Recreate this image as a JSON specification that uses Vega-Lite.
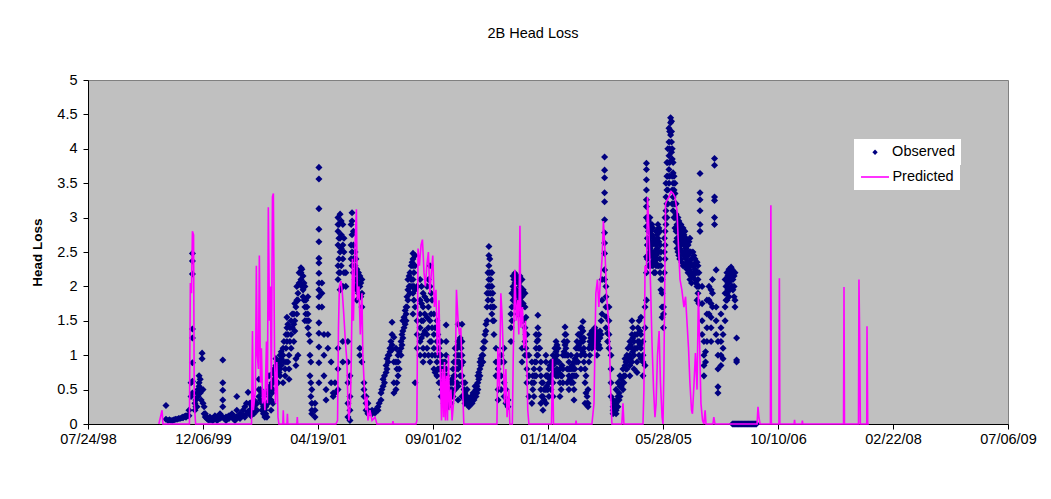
{
"$schema": "https://vega.github.io/schema/vega-lite/v6.json",
"width": 920,
"height": 344,
"autosize": {"type": "none"},
"padding": {"left": 88, "top": 80, "right": 43, "bottom": 75},
"background": "white",
"config": {
  "font": "Liberation Sans",
  "view": {"fill": "#C0C0C0", "stroke": "#808080", "strokeWidth": 1}
},
"title": {"text": "2B Head Loss", "font": "Liberation Sans", "fontSize": 14.5, "fontWeight": "normal", "color": "black", "frame": "group", "anchor": "middle", "dx": -15, "offset": 20, "baseline": "alphabetic"},
"datasets": {
"obs": [
{"d":"1999-06-28","v":0.27},{"d":"1999-06-28","v":0.07},{"d":"1999-07-07","v":0.05},{"d":"1999-07-20","v":0.05},{"d":"1999-08-02","v":0.06},{"d":"1999-08-15","v":0.07},{"d":"1999-08-28","v":0.08},{"d":"1999-09-10","v":0.09},{"d":"1999-09-10","v":0.1},{"d":"1999-09-23","v":0.1},{"d":"1999-09-23","v":0.12},{"d":"1999-10-06","v":0.12},{"d":"1999-10-06","v":0.2},{"d":"1999-10-15","v":0.4},{"d":"1999-10-15","v":0.6},
{"d":"1999-07-13","v":0.06},{"d":"1999-07-27","v":0.05},{"d":"1999-08-08","v":0.07},{"d":"1999-08-22","v":0.08},{"d":"1999-09-04","v":0.09},{"d":"1999-09-17","v":0.11},{"d":"1999-09-30","v":0.12},
{"d":"1999-10-21","v":2.48},{"d":"1999-10-21","v":2.37},{"d":"1999-10-21","v":2.18},{"d":"1999-10-21","v":1.38},{"d":"1999-10-21","v":1.25},{"d":"1999-10-21","v":0.89},{"d":"1999-10-21","v":0.62},{"d":"1999-10-21","v":0.45},
{"d":"1999-11-01","v":0.3},{"d":"1999-11-01","v":0.2},{"d":"1999-11-10","v":0.25},{"d":"1999-11-10","v":0.45},{"d":"1999-11-19","v":0.55},{"d":"1999-11-19","v":0.7},{"d":"1999-11-19","v":0.6},{"d":"1999-11-28","v":0.5},{"d":"1999-11-28","v":0.35},{"d":"1999-12-02","v":1.03},{"d":"1999-12-02","v":0.95},{"d":"1999-12-11","v":0.25},{"d":"1999-12-11","v":0.15},{"d":"1999-12-23","v":0.1},{"d":"1999-12-23","v":0.08},
{"d":"1999-11-05","v":0.35},{"d":"1999-11-05","v":0.25},{"d":"1999-11-14","v":0.4},{"d":"1999-11-14","v":0.5},{"d":"1999-11-24","v":0.65},{"d":"1999-11-24","v":0.45},{"d":"1999-12-06","v":0.5},{"d":"1999-12-06","v":0.3},{"d":"1999-12-16","v":0.15},{"d":"1999-12-16","v":0.1},{"d":"1999-12-29","v":0.06},
{"d":"2000-01-05","v":0.06},{"d":"2000-01-05","v":0.1},{"d":"2000-01-16","v":0.05},{"d":"2000-01-16","v":0.08},{"d":"2000-01-27","v":0.08},{"d":"2000-01-27","v":0.12},{"d":"2000-02-05","v":0.05},{"d":"2000-02-05","v":0.1},{"d":"2000-02-18","v":0.15},{"d":"2000-02-18","v":0.08},
{"d":"2000-01-10","v":0.07},{"d":"2000-01-21","v":0.06},{"d":"2000-02-10","v":0.07},{"d":"2000-02-24","v":0.1},{"d":"2000-03-08","v":0.08},{"d":"2000-03-21","v":0.1},{"d":"2000-04-04","v":0.12},{"d":"2000-04-16","v":0.08},{"d":"2000-04-28","v":0.1},{"d":"2000-05-08","v":0.1},{"d":"2000-05-22","v":0.12},{"d":"2000-06-12","v":0.15},{"d":"2000-06-12","v":0.3},{"d":"2000-06-26","v":0.2},{"d":"2000-06-26","v":0.3},{"d":"2000-07-07","v":0.25},{"d":"2000-07-07","v":0.15},{"d":"2000-07-21","v":0.2},{"d":"2000-07-21","v":0.3},{"d":"2000-08-12","v":0.35},{"d":"2000-08-12","v":0.5},{"d":"2000-08-25","v":0.25},{"d":"2000-08-25","v":0.15},{"d":"2000-09-04","v":0.15},{"d":"2000-09-04","v":0.25},{"d":"2000-09-13","v":0.3},{"d":"2000-09-13","v":0.45},{"d":"2000-09-22","v":0.55},{"d":"2000-09-22","v":0.35},{"d":"2000-10-01","v":0.45},{"d":"2000-10-01","v":0.6},
{"d":"2000-03-01","v":0.93},{"d":"2000-03-01","v":0.6},{"d":"2000-03-01","v":0.49},{"d":"2000-03-01","v":0.35},{"d":"2000-03-01","v":0.25},{"d":"2000-03-01","v":0.1},
{"d":"2000-03-15","v":0.1},{"d":"2000-03-15","v":0.05},{"d":"2000-03-28","v":0.08},{"d":"2000-03-28","v":0.12},{"d":"2000-04-10","v":0.15},{"d":"2000-04-10","v":0.1},{"d":"2000-04-23","v":0.05},{"d":"2000-04-23","v":0.1},{"d":"2000-05-01","v":0.4},{"d":"2000-05-01","v":0.2},{"d":"2000-05-01","v":0.1},{"d":"2000-05-15","v":0.15},{"d":"2000-05-15","v":0.08},{"d":"2000-05-28","v":0.2},{"d":"2000-05-28","v":0.12},{"d":"2000-06-05","v":0.25},{"d":"2000-06-05","v":0.1},{"d":"2000-06-19","v":0.46},{"d":"2000-06-19","v":0.18},
{"d":"2000-07-01","v":0.2},{"d":"2000-07-01","v":0.3},{"d":"2000-07-01","v":0.12},{"d":"2000-07-14","v":0.15},{"d":"2000-07-14","v":0.35},{"d":"2000-07-14","v":0.25},{"d":"2000-07-28","v":0.3},{"d":"2000-07-28","v":0.2},{"d":"2000-08-05","v":0.5},{"d":"2000-08-05","v":0.65},{"d":"2000-08-05","v":0.4},{"d":"2000-08-18","v":0.3},{"d":"2000-08-18","v":0.2},{"d":"2000-08-18","v":0.45},{"d":"2000-08-31","v":0.2},{"d":"2000-08-31","v":0.1},
{"d":"2000-09-09","v":0.1},{"d":"2000-09-09","v":0.3},{"d":"2000-09-18","v":0.5},{"d":"2000-09-18","v":0.7},{"d":"2000-09-18","v":0.4},{"d":"2000-09-27","v":0.2},{"d":"2000-09-27","v":0.35},{"d":"2000-10-05","v":0.74},{"d":"2000-10-05","v":0.6},{"d":"2000-10-05","v":0.5},{"d":"2000-10-05","v":0.3},{"d":"2000-10-18","v":0.85},{"d":"2000-10-18","v":0.95},{"d":"2000-10-18","v":0.7},{"d":"2000-10-27","v":0.6},{"d":"2000-10-27","v":0.8},
{"d":"2000-10-10","v":0.65},{"d":"2000-10-10","v":0.8},{"d":"2000-10-23","v":0.75},{"d":"2000-10-23","v":0.9},{"d":"2000-11-01","v":0.75},{"d":"2000-11-01","v":0.9},{"d":"2000-11-10","v":0.85},{"d":"2000-11-10","v":0.95},{"d":"2000-11-10","v":1.05},{"d":"2000-11-22","v":0.9},{"d":"2000-11-22","v":1.2},{"d":"2000-12-01","v":1.3},{"d":"2000-12-01","v":1.1},{"d":"2000-12-01","v":0.9},{"d":"2000-12-09","v":1.3},{"d":"2000-12-09","v":1.45},{"d":"2000-12-09","v":0.9},{"d":"2000-12-18","v":1.2},{"d":"2000-12-18","v":1.4},{"d":"2000-12-28","v":1.6},{"d":"2000-12-28","v":1.4},
{"d":"2000-11-05","v":0.7},{"d":"2000-11-05","v":0.8},{"d":"2000-11-05","v":1.0},{"d":"2000-11-18","v":1.1},{"d":"2000-11-18","v":1.0},{"d":"2000-11-18","v":0.6},{"d":"2000-11-27","v":0.8},{"d":"2000-11-27","v":0.7},{"d":"2000-12-05","v":1.55},{"d":"2000-12-05","v":1.4},{"d":"2000-12-05","v":1.2},{"d":"2000-12-14","v":1.0},{"d":"2000-12-14","v":0.8},{"d":"2000-12-14","v":0.65},{"d":"2000-12-23","v":1.5},{"d":"2000-12-23","v":1.3},{"d":"2000-12-23","v":1.1},
{"d":"2001-01-04","v":1.6},{"d":"2001-01-04","v":1.45},{"d":"2001-01-04","v":1.2},{"d":"2001-01-13","v":0.95},{"d":"2001-01-13","v":0.85},{"d":"2001-01-13","v":1.7},{"d":"2001-01-22","v":1.9},{"d":"2001-01-22","v":1.8},{"d":"2001-01-22","v":1.0},{"d":"2001-02-04","v":2.27},{"d":"2001-02-04","v":2.2},{"d":"2001-02-04","v":2.1},{"d":"2001-02-13","v":1.95},{"d":"2001-02-13","v":1.85},{"d":"2001-02-13","v":2.15},{"d":"2001-02-21","v":1.7},{"d":"2001-02-21","v":1.5},{"d":"2001-02-21","v":2.0},
{"d":"2001-01-08","v":1.35},{"d":"2001-01-08","v":1.5},{"d":"2001-01-08","v":1.75},{"d":"2001-01-17","v":1.6},{"d":"2001-01-17","v":1.8},{"d":"2001-01-17","v":2.0},{"d":"2001-01-27","v":2.05},{"d":"2001-01-27","v":2.2},{"d":"2001-02-08","v":2.0},{"d":"2001-02-08","v":2.25},{"d":"2001-02-17","v":1.8},{"d":"2001-02-17","v":2.05},{"d":"2001-02-25","v":1.8},{"d":"2001-02-25","v":1.6},{"d":"2001-03-02","v":1.7},{"d":"2001-03-02","v":1.5},{"d":"2001-03-10","v":1.5},{"d":"2001-03-10","v":1.3},{"d":"2001-03-19","v":0.9},{"d":"2001-03-19","v":0.6},{"d":"2001-03-19","v":0.4},
{"d":"2001-03-06","v":1.85},{"d":"2001-03-06","v":1.6},{"d":"2001-03-06","v":1.4},{"d":"2001-03-15","v":1.2},{"d":"2001-03-15","v":1.0},{"d":"2001-03-15","v":0.7},{"d":"2001-03-23","v":0.5},{"d":"2001-03-23","v":0.3},{"d":"2001-03-23","v":0.2},{"d":"2001-03-23","v":0.15},{"d":"2001-04-06","v":0.1},{"d":"2001-04-06","v":0.2},{"d":"2001-04-06","v":0.3},
{"d":"2001-04-23","v":3.73},{"d":"2001-04-23","v":3.56},{"d":"2001-04-23","v":3.13},{"d":"2001-04-23","v":2.83},{"d":"2001-04-23","v":2.65},{"d":"2001-04-23","v":2.41},{"d":"2001-04-23","v":2.34},{"d":"2001-04-23","v":2.19},{"d":"2001-04-23","v":2.05},{"d":"2001-04-23","v":1.95},{"d":"2001-04-23","v":1.85},{"d":"2001-04-23","v":1.7},{"d":"2001-04-23","v":1.47},{"d":"2001-04-23","v":1.32},{"d":"2001-04-23","v":1.12},{"d":"2001-04-23","v":0.89},{"d":"2001-04-23","v":0.6},
{"d":"2001-05-06","v":2.05},{"d":"2001-05-06","v":1.9},{"d":"2001-05-06","v":1.7},{"d":"2001-05-15","v":1.3},{"d":"2001-05-15","v":1.0},{"d":"2001-05-15","v":0.7},{"d":"2001-05-24","v":0.5},{"d":"2001-05-24","v":0.35},{"d":"2001-06-01","v":1.3},{"d":"2001-06-01","v":1.1},{"d":"2001-06-15","v":0.9},{"d":"2001-06-15","v":0.6},{"d":"2001-06-24","v":0.45},{"d":"2001-06-24","v":0.4},{"d":"2001-07-02","v":0.6},{"d":"2001-07-02","v":0.45},
{"d":"2001-07-15","v":3.0},{"d":"2001-07-15","v":2.9},{"d":"2001-07-15","v":2.8},{"d":"2001-07-15","v":2.6},{"d":"2001-07-15","v":2.3},{"d":"2001-07-15","v":2.1},{"d":"2001-07-15","v":1.1},{"d":"2001-07-15","v":0.8},{"d":"2001-07-15","v":0.5},{"d":"2001-07-24","v":3.05},{"d":"2001-07-24","v":2.7},{"d":"2001-07-24","v":2.5},{"d":"2001-07-24","v":2.2},{"d":"2001-07-24","v":1.95},
{"d":"2001-07-19","v":2.9},{"d":"2001-07-19","v":2.7},{"d":"2001-07-19","v":2.4},{"d":"2001-07-19","v":2.2},{"d":"2001-07-29","v":2.95},{"d":"2001-07-29","v":2.75},{"d":"2001-07-29","v":2.55},{"d":"2001-07-29","v":2.3},{"d":"2001-08-10","v":2.7},{"d":"2001-08-10","v":2.5},{"d":"2001-08-10","v":2.2},
{"d":"2001-08-05","v":2.9},{"d":"2001-08-05","v":2.6},{"d":"2001-08-05","v":2.4},{"d":"2001-08-05","v":2.0},{"d":"2001-08-05","v":1.2},{"d":"2001-08-05","v":0.9},{"d":"2001-08-18","v":2.2},{"d":"2001-08-18","v":2.0},{"d":"2001-08-27","v":1.2},{"d":"2001-08-27","v":0.9},{"d":"2001-08-27","v":0.6},{"d":"2001-08-27","v":0.3},{"d":"2001-08-27","v":0.1},
{"d":"2001-09-05","v":0.7},{"d":"2001-09-05","v":0.4},{"d":"2001-09-05","v":0.2},{"d":"2001-09-05","v":0.05},{"d":"2001-09-14","v":3.07},{"d":"2001-09-14","v":2.95},{"d":"2001-09-14","v":2.75},{"d":"2001-09-14","v":2.5},{"d":"2001-09-14","v":2.3},{"d":"2001-09-27","v":2.5},{"d":"2001-09-27","v":2.3},{"d":"2001-09-27","v":2.1},
{"d":"2001-09-10","v":2.9},{"d":"2001-09-10","v":2.6},{"d":"2001-09-10","v":2.4},{"d":"2001-09-20","v":2.8},{"d":"2001-09-20","v":2.6},{"d":"2001-09-20","v":2.4},{"d":"2001-09-20","v":2.2},{"d":"2001-10-01","v":2.4},{"d":"2001-10-01","v":2.2},{"d":"2001-10-01","v":2.0},{"d":"2001-10-12","v":2.2},{"d":"2001-10-12","v":2.05},{"d":"2001-10-12","v":1.9},{"d":"2001-10-22","v":2.05},{"d":"2001-10-22","v":1.85},
{"d":"2001-10-05","v":2.25},{"d":"2001-10-05","v":2.1},{"d":"2001-10-05","v":1.95},{"d":"2001-10-05","v":1.8},{"d":"2001-10-18","v":2.15},{"d":"2001-10-18","v":2.0},{"d":"2001-10-18","v":1.1},{"d":"2001-10-18","v":1.0},{"d":"2001-10-27","v":2.1},{"d":"2001-10-27","v":1.9},{"d":"2001-10-27","v":1.7},{"d":"2001-10-27","v":0.9},
{"d":"2001-11-05","v":0.6},{"d":"2001-11-05","v":0.5},{"d":"2001-11-05","v":0.4},{"d":"2001-11-14","v":0.4},{"d":"2001-11-14","v":0.3},{"d":"2001-11-14","v":0.2},{"d":"2001-11-22","v":0.3},{"d":"2001-11-22","v":0.2},{"d":"2001-11-22","v":0.15},{"d":"2001-12-10","v":0.2},{"d":"2001-12-10","v":0.15},{"d":"2001-12-23","v":0.16},{"d":"2001-12-23","v":0.2},
{"d":"2002-01-05","v":0.2},{"d":"2002-01-05","v":0.25},{"d":"2002-01-18","v":0.35},{"d":"2002-01-18","v":0.45},{"d":"2002-01-27","v":0.55},{"d":"2002-01-27","v":0.65},{"d":"2002-02-09","v":0.75},{"d":"2002-02-09","v":0.85},{"d":"2002-02-18","v":0.9},{"d":"2002-02-18","v":1.0},{"d":"2002-02-26","v":1.05},{"d":"2002-02-26","v":1.1},
{"d":"2002-01-10","v":0.3},{"d":"2002-01-22","v":0.5},{"d":"2002-02-02","v":0.6},{"d":"2002-02-02","v":0.7},{"d":"2002-02-13","v":0.8},{"d":"2002-02-13","v":0.95},{"d":"2002-02-22","v":1.0},{"d":"2002-03-02","v":1.1},{"d":"2002-03-02","v":1.2},{"d":"2002-03-28","v":0.6},{"d":"2002-03-28","v":0.8},{"d":"2002-04-07","v":0.8},{"d":"2002-04-07","v":1.05},{"d":"2002-04-19","v":1.15},{"d":"2002-04-19","v":1.3},{"d":"2002-04-28","v":1.4},{"d":"2002-04-28","v":1.55},{"d":"2002-05-03","v":1.45},{"d":"2002-05-03","v":1.65},{"d":"2002-05-11","v":1.7},{"d":"2002-05-11","v":1.85},{"d":"2002-05-20","v":2.0},{"d":"2002-05-20","v":2.15},{"d":"2002-05-29","v":2.3},{"d":"2002-05-29","v":2.1},{"d":"2002-06-02","v":2.35},{"d":"2002-06-02","v":2.0},{"d":"2002-06-10","v":2.2},{"d":"2002-06-10","v":2.0},{"d":"2002-06-10","v":1.8},
{"d":"2002-03-07","v":1.48},{"d":"2002-03-07","v":1.3},{"d":"2002-03-07","v":1.15},{"d":"2002-03-07","v":1.08},{"d":"2002-03-15","v":1.26},{"d":"2002-03-15","v":0.9},{"d":"2002-03-15","v":0.6},{"d":"2002-03-15","v":0.45},{"d":"2002-03-24","v":1.1},{"d":"2002-03-24","v":0.9},{"d":"2002-03-24","v":0.5},
{"d":"2002-04-02","v":0.7},{"d":"2002-04-02","v":0.9},{"d":"2002-04-02","v":1.0},{"d":"2002-04-15","v":1.0},{"d":"2002-04-15","v":1.1},{"d":"2002-04-15","v":1.2},{"d":"2002-04-23","v":1.25},{"d":"2002-04-23","v":1.35},{"d":"2002-04-23","v":1.5},{"d":"2002-05-07","v":1.5},{"d":"2002-05-07","v":1.6},{"d":"2002-05-07","v":1.7},{"d":"2002-05-15","v":1.8},{"d":"2002-05-15","v":1.95},{"d":"2002-05-15","v":2.1},{"d":"2002-05-24","v":2.2},{"d":"2002-05-24","v":2.0},{"d":"2002-05-24","v":1.9},
{"d":"2002-06-06","v":2.4},{"d":"2002-06-06","v":2.48},{"d":"2002-06-06","v":2.3},{"d":"2002-06-06","v":2.1},{"d":"2002-06-06","v":1.9},{"d":"2002-06-06","v":1.6},{"d":"2002-06-15","v":2.45},{"d":"2002-06-15","v":2.3},{"d":"2002-06-15","v":1.95},{"d":"2002-06-15","v":1.7},{"d":"2002-06-15","v":0.6},{"d":"2002-06-24","v":2.0},{"d":"2002-06-24","v":1.5},{"d":"2002-06-24","v":1.3},{"d":"2002-06-24","v":1.1},
{"d":"2002-07-07","v":2.1},{"d":"2002-07-07","v":1.8},{"d":"2002-07-07","v":1.6},{"d":"2002-07-07","v":1.4},{"d":"2002-07-07","v":1.2},{"d":"2002-07-07","v":1.0},{"d":"2002-07-20","v":1.9},{"d":"2002-07-20","v":1.7},{"d":"2002-07-20","v":1.5},{"d":"2002-07-20","v":1.3},{"d":"2002-07-20","v":1.1},{"d":"2002-07-20","v":0.9},
{"d":"2002-07-13","v":2.0},{"d":"2002-07-13","v":1.75},{"d":"2002-07-13","v":1.5},{"d":"2002-07-13","v":1.25},{"d":"2002-07-27","v":1.85},{"d":"2002-07-27","v":1.6},{"d":"2002-07-27","v":1.35},{"d":"2002-07-27","v":1.0},{"d":"2002-08-12","v":2.1},{"d":"2002-08-12","v":1.7},{"d":"2002-08-12","v":1.4},{"d":"2002-08-12","v":1.0},{"d":"2002-08-24","v":1.9},{"d":"2002-08-24","v":1.6},{"d":"2002-08-24","v":1.2},{"d":"2002-09-10","v":1.4},{"d":"2002-09-10","v":1.0},{"d":"2002-09-10","v":0.75},{"d":"2002-09-22","v":1.3},{"d":"2002-09-22","v":1.0},{"d":"2002-09-22","v":0.8},
{"d":"2002-08-06","v":2.0},{"d":"2002-08-06","v":1.8},{"d":"2002-08-06","v":1.55},{"d":"2002-08-06","v":1.3},{"d":"2002-08-06","v":1.1},{"d":"2002-08-19","v":2.3},{"d":"2002-08-19","v":2.0},{"d":"2002-08-19","v":1.5},{"d":"2002-08-19","v":1.2},{"d":"2002-08-19","v":0.9},{"d":"2002-08-28","v":1.8},{"d":"2002-08-28","v":1.4},{"d":"2002-08-28","v":1.0},
{"d":"2002-09-05","v":1.6},{"d":"2002-09-05","v":1.3},{"d":"2002-09-05","v":1.1},{"d":"2002-09-05","v":0.8},{"d":"2002-09-18","v":1.5},{"d":"2002-09-18","v":1.2},{"d":"2002-09-18","v":0.9},{"d":"2002-09-18","v":0.7},{"d":"2002-09-27","v":1.1},{"d":"2002-09-27","v":0.8},{"d":"2002-09-27","v":0.6},
{"d":"2002-10-06","v":1.2},{"d":"2002-10-06","v":1.0},{"d":"2002-10-06","v":0.8},{"d":"2002-10-06","v":0.6},{"d":"2002-10-06","v":0.4},{"d":"2002-10-19","v":0.9},{"d":"2002-10-19","v":0.7},{"d":"2002-10-19","v":0.5},{"d":"2002-10-19","v":0.3},{"d":"2002-10-28","v":1.44},{"d":"2002-10-28","v":1.2},{"d":"2002-10-28","v":1.0},{"d":"2002-10-28","v":0.8},{"d":"2002-10-28","v":0.6},{"d":"2002-10-28","v":0.35},
{"d":"2002-10-02","v":1.0},{"d":"2002-10-02","v":0.8},{"d":"2002-10-10","v":0.9},{"d":"2002-10-10","v":0.7},{"d":"2002-10-10","v":0.5},{"d":"2002-10-15","v":0.8},{"d":"2002-10-15","v":0.6},{"d":"2002-10-24","v":0.9},{"d":"2002-10-24","v":0.7},{"d":"2002-11-01","v":0.7},{"d":"2002-11-01","v":0.5},{"d":"2002-11-09","v":0.4},{"d":"2002-11-09","v":0.3},{"d":"2002-11-14","v":0.5},{"d":"2002-11-14","v":0.4},{"d":"2002-11-22","v":0.65},{"d":"2002-11-22","v":0.5},{"d":"2002-12-01","v":0.9},{"d":"2002-12-01","v":0.7},{"d":"2002-12-10","v":1.0},{"d":"2002-12-10","v":0.8},{"d":"2002-12-15","v":1.1},{"d":"2002-12-15","v":0.9},{"d":"2002-12-15","v":0.6},{"d":"2002-12-23","v":1.15},{"d":"2002-12-23","v":0.9},
{"d":"2002-11-05","v":0.5},{"d":"2002-11-05","v":0.35},{"d":"2002-11-05","v":0.25},{"d":"2002-11-18","v":0.6},{"d":"2002-11-18","v":0.45},{"d":"2002-11-18","v":0.3},{"d":"2002-11-27","v":0.8},{"d":"2002-11-27","v":0.6},{"d":"2002-11-27","v":0.4},
{"d":"2002-12-06","v":1.1},{"d":"2002-12-06","v":0.9},{"d":"2002-12-06","v":0.7},{"d":"2002-12-06","v":0.5},{"d":"2002-12-19","v":1.45},{"d":"2002-12-19","v":1.2},{"d":"2002-12-19","v":1.0},{"d":"2002-12-19","v":0.8},{"d":"2002-12-19","v":0.55},{"d":"2002-12-19","v":0.35},{"d":"2002-12-28","v":1.25},{"d":"2002-12-28","v":1.0},{"d":"2002-12-28","v":0.7},
{"d":"2003-01-05","v":1.45},{"d":"2003-01-05","v":1.2},{"d":"2003-01-05","v":1.0},{"d":"2003-01-05","v":0.7},{"d":"2003-01-05","v":0.4},{"d":"2003-01-18","v":0.6},{"d":"2003-01-18","v":0.45},{"d":"2003-01-18","v":0.35},{"d":"2003-01-18","v":0.3},{"d":"2003-01-27","v":0.5},{"d":"2003-01-27","v":0.4},{"d":"2003-01-27","v":0.3},
{"d":"2003-01-01","v":1.1},{"d":"2003-01-01","v":0.85},{"d":"2003-01-09","v":0.9},{"d":"2003-01-09","v":0.6},{"d":"2003-01-14","v":0.5},{"d":"2003-01-14","v":0.4},{"d":"2003-01-22","v":0.4},{"d":"2003-01-22","v":0.35},{"d":"2003-02-01","v":0.3},{"d":"2003-02-01","v":0.35},{"d":"2003-02-09","v":0.3},{"d":"2003-02-09","v":0.35},{"d":"2003-02-14","v":0.4},{"d":"2003-02-14","v":0.3},{"d":"2003-02-22","v":0.4},{"d":"2003-02-22","v":0.45},{"d":"2003-03-03","v":0.45},{"d":"2003-03-03","v":0.55},{"d":"2003-03-11","v":0.55},{"d":"2003-03-11","v":0.45},{"d":"2003-03-19","v":0.65},{"d":"2003-03-19","v":0.75},{"d":"2003-03-28","v":0.85},{"d":"2003-03-28","v":0.95},{"d":"2003-04-02","v":0.9},{"d":"2003-04-02","v":1.0},{"d":"2003-04-10","v":1.1},{"d":"2003-04-10","v":1.2},{"d":"2003-04-19","v":1.35},{"d":"2003-04-19","v":1.45},
{"d":"2003-02-04","v":0.35},{"d":"2003-02-04","v":0.3},{"d":"2003-02-04","v":0.25},{"d":"2003-02-18","v":0.4},{"d":"2003-02-18","v":0.35},{"d":"2003-02-18","v":0.3},{"d":"2003-02-26","v":0.45},{"d":"2003-02-26","v":0.35},
{"d":"2003-03-07","v":0.5},{"d":"2003-03-07","v":0.4},{"d":"2003-03-15","v":0.6},{"d":"2003-03-15","v":0.5},{"d":"2003-03-15","v":0.7},{"d":"2003-03-24","v":0.8},{"d":"2003-03-24","v":0.9},{"d":"2003-03-24","v":0.7},
{"d":"2003-04-06","v":1.0},{"d":"2003-04-06","v":1.1},{"d":"2003-04-06","v":0.9},{"d":"2003-04-15","v":1.2},{"d":"2003-04-15","v":1.3},{"d":"2003-04-24","v":1.5},{"d":"2003-04-24","v":1.7},{"d":"2003-04-24","v":1.9},
{"d":"2003-04-28","v":1.8},{"d":"2003-04-28","v":2.0},{"d":"2003-04-28","v":2.2},{"d":"2003-05-06","v":2.4},{"d":"2003-05-06","v":2.2},{"d":"2003-05-06","v":2.0},{"d":"2003-05-10","v":2.1},{"d":"2003-05-10","v":1.9},{"d":"2003-05-10","v":1.7},{"d":"2003-05-19","v":1.9},{"d":"2003-05-19","v":1.7},{"d":"2003-05-19","v":1.5},
{"d":"2003-05-02","v":2.58},{"d":"2003-05-02","v":2.45},{"d":"2003-05-02","v":2.3},{"d":"2003-05-02","v":2.1},{"d":"2003-05-02","v":1.9},{"d":"2003-05-15","v":2.2},{"d":"2003-05-15","v":2.0},{"d":"2003-05-15","v":1.8},{"d":"2003-05-15","v":1.6},{"d":"2003-05-24","v":1.7},{"d":"2003-05-24","v":1.5},{"d":"2003-05-24","v":1.3},
{"d":"2003-06-02","v":1.1},{"d":"2003-06-02","v":0.9},{"d":"2003-06-02","v":0.7},{"d":"2003-06-11","v":0.5},{"d":"2003-06-11","v":0.35},{"d":"2003-06-11","v":0.8},{"d":"2003-06-24","v":1.0},{"d":"2003-06-24","v":0.9},{"d":"2003-06-24","v":0.7},{"d":"2003-06-24","v":0.5},
{"d":"2003-07-07","v":1.1},{"d":"2003-07-07","v":0.9},{"d":"2003-07-07","v":0.6},{"d":"2003-07-07","v":0.4},{"d":"2003-07-15","v":0.5},{"d":"2003-07-15","v":0.3},{"d":"2003-07-24","v":0.25},{"d":"2003-07-24","v":0.35},
{"d":"2003-08-06","v":1.2},{"d":"2003-08-06","v":1.4},{"d":"2003-08-06","v":1.6},{"d":"2003-08-15","v":1.8},{"d":"2003-08-15","v":2.0},{"d":"2003-08-15","v":2.15},{"d":"2003-08-23","v":2.19},{"d":"2003-08-23","v":2.05},{"d":"2003-08-23","v":1.85},{"d":"2003-08-23","v":1.7},
{"d":"2003-08-10","v":1.5},{"d":"2003-08-10","v":1.7},{"d":"2003-08-10","v":1.9},{"d":"2003-08-19","v":2.1},{"d":"2003-08-19","v":1.95},{"d":"2003-08-19","v":1.8},{"d":"2003-08-28","v":2.15},{"d":"2003-08-28","v":1.95},{"d":"2003-08-28","v":1.75},{"d":"2003-09-09","v":2.05},{"d":"2003-09-09","v":1.85},{"d":"2003-09-09","v":1.7},{"d":"2003-09-18","v":2.1},{"d":"2003-09-18","v":1.9},{"d":"2003-09-18","v":1.7},{"d":"2003-09-28","v":1.95},{"d":"2003-09-28","v":1.75},{"d":"2003-09-28","v":1.5},{"d":"2003-10-10","v":1.55},{"d":"2003-10-10","v":1.3},{"d":"2003-10-10","v":1.1},
{"d":"2003-09-05","v":2.1},{"d":"2003-09-05","v":1.9},{"d":"2003-09-05","v":1.75},{"d":"2003-09-05","v":1.6},{"d":"2003-09-14","v":2.15},{"d":"2003-09-14","v":2.0},{"d":"2003-09-14","v":1.8},{"d":"2003-09-14","v":1.6},{"d":"2003-09-23","v":2.1},{"d":"2003-09-23","v":1.85},{"d":"2003-09-23","v":1.7},{"d":"2003-09-23","v":1.1},{"d":"2003-09-23","v":0.9},
{"d":"2003-10-06","v":1.9},{"d":"2003-10-06","v":1.7},{"d":"2003-10-06","v":1.4},{"d":"2003-10-06","v":1.2},{"d":"2003-10-06","v":1.0},{"d":"2003-10-14","v":1.3},{"d":"2003-10-14","v":1.0},{"d":"2003-10-14","v":0.8},{"d":"2003-10-14","v":0.6},{"d":"2003-10-23","v":1.0},{"d":"2003-10-23","v":0.7},{"d":"2003-10-23","v":0.4},
{"d":"2003-11-05","v":0.9},{"d":"2003-11-05","v":0.6},{"d":"2003-11-05","v":0.3},{"d":"2003-11-14","v":0.8},{"d":"2003-11-14","v":0.6},{"d":"2003-11-14","v":0.4},{"d":"2003-11-23","v":1.3},{"d":"2003-11-23","v":1.1},{"d":"2003-11-23","v":0.9},{"d":"2003-11-23","v":0.7},
{"d":"2003-11-09","v":0.7},{"d":"2003-11-09","v":0.5},{"d":"2003-11-18","v":0.9},{"d":"2003-11-18","v":0.7},{"d":"2003-11-27","v":1.2},{"d":"2003-11-27","v":1.0},{"d":"2003-12-05","v":1.3},{"d":"2003-12-05","v":1.1},{"d":"2003-12-09","v":1.1},{"d":"2003-12-09","v":0.8},{"d":"2003-12-18","v":0.6},{"d":"2003-12-18","v":0.4},{"d":"2003-12-28","v":0.35},{"d":"2003-12-28","v":0.5},
{"d":"2003-12-01","v":1.58},{"d":"2003-12-01","v":1.4},{"d":"2003-12-01","v":1.22},{"d":"2003-12-01","v":1.0},{"d":"2003-12-14","v":0.9},{"d":"2003-12-14","v":0.7},{"d":"2003-12-14","v":0.5},{"d":"2003-12-14","v":0.3},{"d":"2003-12-23","v":0.6},{"d":"2003-12-23","v":0.4},{"d":"2003-12-23","v":0.2},
{"d":"2004-01-05","v":0.5},{"d":"2004-01-05","v":0.7},{"d":"2004-01-05","v":0.9},{"d":"2004-01-05","v":1.0},{"d":"2004-01-05","v":0.3},{"d":"2004-01-18","v":0.4},{"d":"2004-01-18","v":0.6},{"d":"2004-01-18","v":0.8},{"d":"2004-01-27","v":0.9},{"d":"2004-01-27","v":0.7},{"d":"2004-01-27","v":0.5},
{"d":"2004-01-09","v":0.7},{"d":"2004-01-09","v":0.55},{"d":"2004-01-13","v":0.5},{"d":"2004-01-13","v":0.7},{"d":"2004-01-22","v":0.65},{"d":"2004-01-22","v":0.85},{"d":"2004-02-01","v":0.8},{"d":"2004-02-01","v":0.6},{"d":"2004-02-09","v":0.9},{"d":"2004-02-09","v":0.75},{"d":"2004-02-13","v":1.1},{"d":"2004-02-13","v":0.95},{"d":"2004-02-22","v":1.15},{"d":"2004-02-22","v":1.0},{"d":"2004-02-22","v":0.8},{"d":"2004-03-01","v":0.9},{"d":"2004-03-01","v":0.75},{"d":"2004-03-11","v":0.7},{"d":"2004-03-11","v":0.5},{"d":"2004-03-15","v":0.85},{"d":"2004-03-15","v":0.7},{"d":"2004-03-24","v":1.2},{"d":"2004-03-24","v":1.05},
{"d":"2004-02-05","v":1.0},{"d":"2004-02-05","v":0.85},{"d":"2004-02-05","v":0.6},{"d":"2004-02-05","v":0.4},{"d":"2004-02-18","v":1.2},{"d":"2004-02-18","v":1.05},{"d":"2004-02-18","v":0.9},{"d":"2004-02-18","v":0.7},{"d":"2004-02-27","v":1.1},{"d":"2004-02-27","v":0.9},{"d":"2004-02-27","v":0.7},
{"d":"2004-03-06","v":0.8},{"d":"2004-03-06","v":0.6},{"d":"2004-03-06","v":0.4},{"d":"2004-03-19","v":1.0},{"d":"2004-03-19","v":0.8},{"d":"2004-03-19","v":0.6},{"d":"2004-03-28","v":1.41},{"d":"2004-03-28","v":1.3},{"d":"2004-03-28","v":1.15},{"d":"2004-03-28","v":1.0},
{"d":"2004-04-01","v":1.3},{"d":"2004-04-01","v":1.1},{"d":"2004-04-10","v":1.0},{"d":"2004-04-10","v":0.8},{"d":"2004-04-18","v":0.8},{"d":"2004-04-18","v":0.65},{"d":"2004-04-28","v":0.85},{"d":"2004-04-28","v":0.7},{"d":"2004-05-02","v":0.8},{"d":"2004-05-02","v":0.6},{"d":"2004-05-10","v":0.95},{"d":"2004-05-10","v":0.8},{"d":"2004-05-19","v":1.2},{"d":"2004-05-19","v":1.0},{"d":"2004-05-28","v":1.3},{"d":"2004-05-28","v":1.15},{"d":"2004-06-01","v":1.3},{"d":"2004-06-01","v":1.1},{"d":"2004-06-09","v":1.4},{"d":"2004-06-09","v":1.25},{"d":"2004-06-18","v":1.25},{"d":"2004-06-18","v":1.1},{"d":"2004-06-18","v":0.9},{"d":"2004-06-27","v":0.7},{"d":"2004-06-27","v":0.45},{"d":"2004-07-02","v":0.4},{"d":"2004-07-02","v":0.3},{"d":"2004-07-10","v":0.9},{"d":"2004-07-10","v":1.1},{"d":"2004-07-18","v":1.25},{"d":"2004-07-18","v":1.15},{"d":"2004-07-28","v":1.3},{"d":"2004-07-28","v":1.2},{"d":"2004-08-01","v":1.35},{"d":"2004-08-01","v":1.2},{"d":"2004-08-09","v":1.35},{"d":"2004-08-09","v":1.25},{"d":"2004-08-18","v":1.2},{"d":"2004-08-18","v":1.1},{"d":"2004-08-22","v":1.25},{"d":"2004-08-22","v":1.15},{"d":"2004-09-01","v":1.5},{"d":"2004-09-01","v":1.3},
{"d":"2004-04-06","v":1.2},{"d":"2004-04-06","v":1.0},{"d":"2004-04-06","v":0.8},{"d":"2004-04-06","v":0.6},{"d":"2004-04-14","v":0.9},{"d":"2004-04-14","v":0.7},{"d":"2004-04-14","v":0.5},{"d":"2004-04-23","v":1.0},{"d":"2004-04-23","v":0.8},{"d":"2004-04-23","v":0.6},
{"d":"2004-05-06","v":0.9},{"d":"2004-05-06","v":0.7},{"d":"2004-05-06","v":0.5},{"d":"2004-05-06","v":0.35},{"d":"2004-05-15","v":1.1},{"d":"2004-05-15","v":0.9},{"d":"2004-05-15","v":0.7},{"d":"2004-05-24","v":1.3},{"d":"2004-05-24","v":1.1},{"d":"2004-05-24","v":0.9},
{"d":"2004-06-05","v":1.4},{"d":"2004-06-05","v":1.2},{"d":"2004-06-05","v":1.0},{"d":"2004-06-05","v":0.8},{"d":"2004-06-14","v":1.49},{"d":"2004-06-14","v":1.35},{"d":"2004-06-14","v":1.2},{"d":"2004-06-14","v":1.05},{"d":"2004-06-23","v":1.0},{"d":"2004-06-23","v":0.8},{"d":"2004-06-23","v":0.6},{"d":"2004-06-23","v":0.3},
{"d":"2004-07-06","v":0.5},{"d":"2004-07-06","v":0.3},{"d":"2004-07-06","v":0.25},{"d":"2004-07-14","v":1.2},{"d":"2004-07-14","v":1.3},{"d":"2004-07-14","v":1.0},{"d":"2004-07-23","v":1.35},{"d":"2004-07-23","v":1.2},{"d":"2004-07-23","v":1.1},
{"d":"2004-08-05","v":1.4},{"d":"2004-08-05","v":1.25},{"d":"2004-08-05","v":1.15},{"d":"2004-08-14","v":1.3},{"d":"2004-08-14","v":1.2},{"d":"2004-08-14","v":1.0},{"d":"2004-08-27","v":1.25},{"d":"2004-08-27","v":1.1},{"d":"2004-08-27","v":1.35},
{"d":"2004-09-05","v":1.8},{"d":"2004-09-05","v":2.1},{"d":"2004-09-05","v":1.6},
{"d":"2004-09-16","v":3.88},{"d":"2004-09-16","v":3.69},{"d":"2004-09-16","v":3.58},{"d":"2004-09-16","v":3.36},{"d":"2004-09-16","v":3.23},{"d":"2004-09-16","v":2.97},{"d":"2004-09-16","v":2.78},{"d":"2004-09-16","v":2.63},{"d":"2004-09-16","v":2.48},{"d":"2004-09-16","v":2.24},{"d":"2004-09-16","v":2.1},
{"d":"2004-09-22","v":2.0},{"d":"2004-09-22","v":1.85},{"d":"2004-09-22","v":1.7},{"d":"2004-09-22","v":1.56},{"d":"2004-09-22","v":1.4},{"d":"2004-09-29","v":1.32},{"d":"2004-09-29","v":1.2},
{"d":"2004-10-05","v":1.7},{"d":"2004-10-05","v":1.5},{"d":"2004-10-05","v":1.3},{"d":"2004-10-05","v":1.1},{"d":"2004-10-14","v":1.0},{"d":"2004-10-14","v":0.8},{"d":"2004-10-14","v":0.6},{"d":"2004-10-14","v":0.4},{"d":"2004-10-23","v":0.35},{"d":"2004-10-23","v":0.25},{"d":"2004-10-23","v":0.2},{"d":"2004-10-23","v":0.15},
{"d":"2004-10-28","v":0.3},{"d":"2004-10-28","v":0.2},{"d":"2004-11-09","v":0.35},{"d":"2004-11-09","v":0.25},{"d":"2004-11-18","v":0.45},{"d":"2004-11-18","v":0.35},{"d":"2004-11-27","v":0.55},{"d":"2004-11-27","v":0.65},{"d":"2004-12-09","v":0.7},{"d":"2004-12-09","v":0.6},{"d":"2004-12-18","v":0.8},{"d":"2004-12-18","v":0.9},{"d":"2004-12-27","v":0.95},{"d":"2004-12-27","v":1.1},{"d":"2005-01-08","v":0.95},{"d":"2005-01-08","v":1.15},{"d":"2005-01-17","v":1.05},{"d":"2005-01-17","v":1.25},{"d":"2005-01-17","v":1.4},{"d":"2005-01-26","v":1.1},{"d":"2005-01-26","v":1.3},{"d":"2005-02-08","v":1.2},{"d":"2005-02-08","v":1.4},{"d":"2005-02-17","v":1.35},{"d":"2005-02-17","v":1.15},
{"d":"2004-11-05","v":0.3},{"d":"2004-11-05","v":0.2},{"d":"2004-11-05","v":0.15},{"d":"2004-11-05","v":0.5},{"d":"2004-11-13","v":0.25},{"d":"2004-11-13","v":0.4},{"d":"2004-11-13","v":0.6},{"d":"2004-11-22","v":0.4},{"d":"2004-11-22","v":0.55},{"d":"2004-11-22","v":0.7},
{"d":"2004-12-05","v":0.6},{"d":"2004-12-05","v":0.8},{"d":"2004-12-05","v":0.5},{"d":"2004-12-14","v":0.7},{"d":"2004-12-14","v":0.85},{"d":"2004-12-14","v":0.95},{"d":"2004-12-22","v":0.8},{"d":"2004-12-22","v":0.9},{"d":"2004-12-22","v":1.0},
{"d":"2005-01-04","v":1.0},{"d":"2005-01-04","v":0.85},{"d":"2005-01-04","v":0.7},{"d":"2005-01-04","v":1.2},{"d":"2005-01-13","v":1.1},{"d":"2005-01-13","v":1.3},{"d":"2005-01-13","v":1.5},{"d":"2005-01-13","v":0.9},{"d":"2005-01-22","v":1.2},{"d":"2005-01-22","v":1.0},{"d":"2005-01-22","v":0.8},
{"d":"2005-02-04","v":1.3},{"d":"2005-02-04","v":1.1},{"d":"2005-02-04","v":0.9},{"d":"2005-02-04","v":0.75},{"d":"2005-02-13","v":1.5},{"d":"2005-02-13","v":1.2},{"d":"2005-02-13","v":1.0},{"d":"2005-02-21","v":1.55},{"d":"2005-02-21","v":1.3},{"d":"2005-02-21","v":1.1},{"d":"2005-02-21","v":0.95},
{"d":"2005-03-02","v":1.2},{"d":"2005-03-02","v":1.0},{"d":"2005-03-02","v":0.9},{"d":"2005-03-02","v":0.7},{"d":"2005-03-11","v":1.4},{"d":"2005-03-11","v":1.7},{"d":"2005-03-11","v":0.85},
{"d":"2005-03-17","v":3.79},{"d":"2005-03-17","v":3.7},{"d":"2005-03-17","v":3.55},{"d":"2005-03-17","v":3.4},{"d":"2005-03-17","v":3.26},{"d":"2005-03-17","v":3.16},{"d":"2005-03-17","v":3.0},{"d":"2005-03-17","v":2.87},{"d":"2005-03-17","v":2.43},{"d":"2005-03-17","v":2.2},{"d":"2005-03-17","v":1.8},
{"d":"2005-03-26","v":2.95},{"d":"2005-03-26","v":2.8},{"d":"2005-03-26","v":2.6},{"d":"2005-03-26","v":2.45},{"d":"2005-03-26","v":2.3},
{"d":"2005-03-21","v":2.6},{"d":"2005-03-21","v":2.4},{"d":"2005-03-21","v":2.7},{"d":"2005-03-30","v":2.9},{"d":"2005-03-30","v":2.65},{"d":"2005-03-30","v":2.5},{"d":"2005-04-05","v":2.8},{"d":"2005-04-05","v":2.6},{"d":"2005-04-05","v":2.45},{"d":"2005-04-05","v":2.3},{"d":"2005-04-14","v":2.85},{"d":"2005-04-14","v":2.65},{"d":"2005-04-14","v":2.45},{"d":"2005-04-14","v":2.3},{"d":"2005-04-24","v":2.65},{"d":"2005-04-24","v":2.5},{"d":"2005-04-24","v":2.35},{"d":"2005-04-24","v":2.2},{"d":"2005-05-02","v":2.75},{"d":"2005-05-02","v":2.55},{"d":"2005-05-02","v":2.4},{"d":"2005-05-10","v":2.85},{"d":"2005-05-10","v":2.65},{"d":"2005-05-10","v":2.5},{"d":"2005-05-10","v":2.3},{"d":"2005-05-19","v":2.5},{"d":"2005-05-19","v":2.3},{"d":"2005-05-19","v":2.1},{"d":"2005-05-19","v":1.95},
{"d":"2005-04-01","v":3.0},{"d":"2005-04-01","v":2.85},{"d":"2005-04-01","v":2.7},{"d":"2005-04-01","v":2.55},{"d":"2005-04-10","v":2.9},{"d":"2005-04-10","v":2.75},{"d":"2005-04-10","v":2.6},{"d":"2005-04-10","v":2.5},{"d":"2005-04-10","v":2.35},{"d":"2005-04-19","v":2.7},{"d":"2005-04-19","v":2.5},{"d":"2005-04-19","v":2.4},{"d":"2005-04-19","v":2.2},{"d":"2005-04-28","v":2.6},{"d":"2005-04-28","v":2.45},{"d":"2005-04-28","v":2.3},{"d":"2005-04-28","v":2.8},
{"d":"2005-05-06","v":2.7},{"d":"2005-05-06","v":2.9},{"d":"2005-05-06","v":2.5},{"d":"2005-05-06","v":2.3},{"d":"2005-05-15","v":2.8},{"d":"2005-05-15","v":2.6},{"d":"2005-05-15","v":2.4},{"d":"2005-05-15","v":2.2},{"d":"2005-05-24","v":2.1},{"d":"2005-05-24","v":1.9},{"d":"2005-05-24","v":1.7},{"d":"2005-05-24","v":1.55},{"d":"2005-05-30","v":1.6},{"d":"2005-05-30","v":1.4},{"d":"2005-05-30","v":1.7},
{"d":"2005-06-03","v":2.2},{"d":"2005-06-03","v":2.5},{"d":"2005-06-03","v":2.7},{"d":"2005-06-10","v":3.1},{"d":"2005-06-10","v":3.3},{"d":"2005-06-10","v":3.5},{"d":"2005-06-10","v":2.9},{"d":"2005-06-18","v":3.6},{"d":"2005-06-18","v":3.8},{"d":"2005-06-18","v":4.0},{"d":"2005-06-18","v":3.4},{"d":"2005-06-18","v":3.2},{"d":"2005-06-26","v":4.25},{"d":"2005-06-26","v":4.0},{"d":"2005-06-26","v":3.8},{"d":"2005-06-26","v":3.6},{"d":"2005-07-07","v":4.0},{"d":"2005-07-07","v":3.85},{"d":"2005-07-07","v":3.6},{"d":"2005-07-07","v":3.4},{"d":"2005-07-07","v":3.2},{"d":"2005-07-15","v":3.6},{"d":"2005-07-15","v":3.4},{"d":"2005-07-15","v":3.2},{"d":"2005-07-15","v":3.0},{"d":"2005-07-24","v":3.2},{"d":"2005-07-24","v":3.05},{"d":"2005-07-24","v":2.8},{"d":"2005-07-24","v":2.65},
{"d":"2005-06-06","v":2.6},{"d":"2005-06-06","v":2.8},{"d":"2005-06-06","v":3.0},{"d":"2005-06-06","v":2.4},{"d":"2005-06-14","v":3.4},{"d":"2005-06-14","v":3.6},{"d":"2005-06-14","v":3.8},{"d":"2005-06-14","v":3.2},{"d":"2005-06-14","v":3.0},{"d":"2005-06-23","v":4.1},{"d":"2005-06-23","v":4.3},{"d":"2005-06-23","v":3.9},{"d":"2005-06-23","v":3.7},{"d":"2005-06-23","v":3.5},{"d":"2005-06-30","v":4.45},{"d":"2005-06-30","v":4.38},{"d":"2005-06-30","v":4.2},
{"d":"2005-07-04","v":4.4},{"d":"2005-07-04","v":4.25},{"d":"2005-07-04","v":4.1},{"d":"2005-07-04","v":3.95},{"d":"2005-07-11","v":3.8},{"d":"2005-07-11","v":3.65},{"d":"2005-07-11","v":3.5},{"d":"2005-07-11","v":3.3},{"d":"2005-07-11","v":3.1},{"d":"2005-07-19","v":3.5},{"d":"2005-07-19","v":3.35},{"d":"2005-07-19","v":3.2},{"d":"2005-07-19","v":3.0},{"d":"2005-07-19","v":2.85},{"d":"2005-07-28","v":3.0},{"d":"2005-07-28","v":2.9},{"d":"2005-07-28","v":2.7},{"d":"2005-07-28","v":2.55},
{"d":"2005-08-01","v":3.0},{"d":"2005-08-01","v":2.85},{"d":"2005-08-01","v":2.7},{"d":"2005-08-01","v":2.5},{"d":"2005-08-09","v":2.85},{"d":"2005-08-09","v":2.7},{"d":"2005-08-09","v":2.55},{"d":"2005-08-09","v":2.4},{"d":"2005-08-18","v":2.8},{"d":"2005-08-18","v":2.65},{"d":"2005-08-18","v":2.5},{"d":"2005-08-18","v":2.35},{"d":"2005-08-27","v":2.75},{"d":"2005-08-27","v":2.6},{"d":"2005-08-27","v":2.45},{"d":"2005-08-27","v":2.3},{"d":"2005-09-09","v":2.65},{"d":"2005-09-09","v":2.5},{"d":"2005-09-09","v":2.35},{"d":"2005-09-09","v":2.25},{"d":"2005-09-18","v":2.65},{"d":"2005-09-18","v":2.5},{"d":"2005-09-18","v":2.35},{"d":"2005-09-18","v":2.25},{"d":"2005-09-26","v":2.5},{"d":"2005-09-26","v":2.3},{"d":"2005-09-26","v":2.15},{"d":"2005-10-09","v":2.45},{"d":"2005-10-09","v":2.3},{"d":"2005-10-09","v":2.2},{"d":"2005-10-18","v":2.35},{"d":"2005-10-18","v":2.2},{"d":"2005-10-18","v":2.05},{"d":"2005-10-27","v":2.3},{"d":"2005-10-27","v":2.1},{"d":"2005-10-27","v":1.9},
{"d":"2005-08-05","v":2.95},{"d":"2005-08-05","v":2.8},{"d":"2005-08-05","v":2.6},{"d":"2005-08-05","v":2.45},{"d":"2005-08-14","v":2.9},{"d":"2005-08-14","v":2.75},{"d":"2005-08-14","v":2.6},{"d":"2005-08-14","v":2.4},{"d":"2005-08-23","v":2.85},{"d":"2005-08-23","v":2.7},{"d":"2005-08-23","v":2.5},{"d":"2005-08-23","v":2.3},{"d":"2005-08-31","v":2.8},{"d":"2005-08-31","v":2.65},{"d":"2005-08-31","v":2.5},
{"d":"2005-09-05","v":2.7},{"d":"2005-09-05","v":2.55},{"d":"2005-09-05","v":2.4},{"d":"2005-09-05","v":2.3},{"d":"2005-09-14","v":2.6},{"d":"2005-09-14","v":2.45},{"d":"2005-09-14","v":2.3},{"d":"2005-09-14","v":2.2},{"d":"2005-09-22","v":2.7},{"d":"2005-09-22","v":2.5},{"d":"2005-09-22","v":2.35},{"d":"2005-09-22","v":2.2},{"d":"2005-09-22","v":2.1},{"d":"2005-09-29","v":2.4},{"d":"2005-09-29","v":2.2},{"d":"2005-09-29","v":2.05},
{"d":"2005-10-05","v":2.5},{"d":"2005-10-05","v":2.3},{"d":"2005-10-05","v":2.15},{"d":"2005-10-14","v":2.4},{"d":"2005-10-14","v":2.25},{"d":"2005-10-14","v":2.1},{"d":"2005-10-23","v":2.35},{"d":"2005-10-23","v":2.2},{"d":"2005-10-23","v":2.0},{"d":"2005-10-23","v":1.8},{"d":"2005-10-31","v":2.2},{"d":"2005-10-31","v":2.0},{"d":"2005-10-31","v":1.75},
{"d":"2005-11-05","v":3.64},{"d":"2005-11-05","v":3.36},{"d":"2005-11-05","v":3.26},{"d":"2005-11-05","v":3.1},{"d":"2005-11-05","v":2.9},{"d":"2005-11-05","v":2.8},{"d":"2005-11-14","v":2.0},{"d":"2005-11-14","v":1.75},{"d":"2005-11-14","v":1.5},{"d":"2005-11-14","v":1.3},{"d":"2005-11-22","v":1.2},{"d":"2005-11-22","v":1.0},{"d":"2005-11-22","v":0.85},{"d":"2005-11-22","v":0.7},{"d":"2005-11-29","v":1.05},{"d":"2005-11-29","v":0.9},
{"d":"2005-12-05","v":1.8},{"d":"2005-12-05","v":1.6},{"d":"2005-12-05","v":1.4},{"d":"2005-12-05","v":1.2},{"d":"2005-12-14","v":2.0},{"d":"2005-12-14","v":1.8},{"d":"2005-12-14","v":1.6},{"d":"2005-12-23","v":1.95},{"d":"2005-12-23","v":1.75},{"d":"2005-12-23","v":1.55},{"d":"2005-12-23","v":1.4},{"d":"2005-12-23","v":1.2},{"d":"2005-12-29","v":2.1},{"d":"2005-12-29","v":1.9},{"d":"2005-12-29","v":1.7},
{"d":"2006-01-07","v":3.86},{"d":"2006-01-07","v":3.76},{"d":"2006-01-07","v":3.3},{"d":"2006-01-07","v":3.25},{"d":"2006-01-07","v":3.0},{"d":"2006-01-07","v":2.9},{"d":"2006-01-14","v":2.24},{"d":"2006-01-14","v":1.7},{"d":"2006-01-14","v":1.5},{"d":"2006-01-14","v":1.3},{"d":"2006-01-22","v":1.2},{"d":"2006-01-22","v":1.0},{"d":"2006-01-22","v":0.8},{"d":"2006-01-22","v":0.54},{"d":"2006-01-22","v":0.45},
{"d":"2006-02-04","v":1.6},{"d":"2006-02-04","v":1.4},{"d":"2006-02-04","v":1.2},{"d":"2006-02-04","v":1.0},{"d":"2006-02-04","v":0.85},{"d":"2006-02-13","v":1.3},{"d":"2006-02-13","v":1.1},{"d":"2006-02-13","v":0.95},{"d":"2006-02-22","v":1.5},{"d":"2006-02-22","v":1.7},{"d":"2006-02-22","v":1.9},{"d":"2006-02-22","v":2.1},
{"d":"2006-02-26","v":1.8},{"d":"2006-02-26","v":2.0},{"d":"2006-03-06","v":2.05},{"d":"2006-03-06","v":2.15},{"d":"2006-03-06","v":1.95},{"d":"2006-03-15","v":2.2},{"d":"2006-03-15","v":2.1},{"d":"2006-03-15","v":1.95},{"d":"2006-03-24","v":2.25},{"d":"2006-03-24","v":2.15},{"d":"2006-03-24","v":2.0},{"d":"2006-04-02","v":2.15},{"d":"2006-04-02","v":2.0},{"d":"2006-04-02","v":1.85},
{"d":"2006-03-02","v":2.0},{"d":"2006-03-02","v":2.1},{"d":"2006-03-02","v":2.2},{"d":"2006-03-02","v":1.9},{"d":"2006-03-02","v":1.8},{"d":"2006-03-11","v":2.15},{"d":"2006-03-11","v":2.25},{"d":"2006-03-11","v":2.05},{"d":"2006-03-11","v":1.85},{"d":"2006-03-20","v":2.2},{"d":"2006-03-20","v":2.28},{"d":"2006-03-20","v":2.1},{"d":"2006-03-28","v":2.2},{"d":"2006-03-28","v":2.1},{"d":"2006-03-28","v":1.95},
{"d":"2006-04-06","v":2.2},{"d":"2006-04-06","v":1.8},{"d":"2006-04-06","v":1.7},{"d":"2006-04-13","v":1.25},{"d":"2006-04-13","v":0.93},{"d":"2006-04-13","v":0.9},
{"d":"2006-03-26","v":0},{"d":"2006-03-30","v":0},{"d":"2006-04-03","v":0},{"d":"2006-04-07","v":0},{"d":"2006-04-11","v":0},{"d":"2006-04-15","v":0},{"d":"2006-04-19","v":0},{"d":"2006-04-23","v":0},{"d":"2006-04-27","v":0},{"d":"2006-05-01","v":0},{"d":"2006-05-05","v":0},{"d":"2006-05-09","v":0},{"d":"2006-05-13","v":0},{"d":"2006-05-17","v":0},{"d":"2006-05-21","v":0},{"d":"2006-05-25","v":0},{"d":"2006-05-29","v":0},{"d":"2006-06-02","v":0},{"d":"2006-06-06","v":0},{"d":"2006-06-10","v":0},{"d":"2006-06-14","v":0},{"d":"2006-06-18","v":0},{"d":"2006-06-22","v":0},{"d":"2006-06-26","v":0},{"d":"2006-06-30","v":0},{"d":"2006-07-04","v":0},{"d":"2006-07-08","v":0}
],
"pred": [
{"d":"1999-05-28","v":0},{"d":"1999-06-11","v":0.2},{"d":"1999-06-15","v":0},{"d":"1999-10-08","v":0},{"d":"1999-10-12","v":2.05},{"d":"1999-10-17","v":1.9},{"d":"1999-10-21","v":2.8},{"d":"1999-10-26","v":2.75},{"d":"1999-10-29","v":0.3},{"d":"1999-11-04","v":0},
{"d":"2000-07-04","v":0},{"d":"2000-07-08","v":1.35},{"d":"2000-07-12","v":0.2},{"d":"2000-07-21","v":0.5},{"d":"2000-07-25","v":2.3},{"d":"2000-07-29","v":1.0},{"d":"2000-08-03","v":0.8},{"d":"2000-08-07","v":2.45},{"d":"2000-08-12","v":0.6},{"d":"2000-08-16","v":1.1},{"d":"2000-08-21","v":0.3},{"d":"2000-08-27","v":0.5},{"d":"2000-08-31","v":0.2},{"d":"2000-09-07","v":1.2},{"d":"2000-09-11","v":0.3},{"d":"2000-09-15","v":3.15},{"d":"2000-09-20","v":1.5},{"d":"2000-09-24","v":2.0},{"d":"2000-09-28","v":0.5},{"d":"2000-10-03","v":3.3},{"d":"2000-10-07","v":3.35},{"d":"2000-10-12","v":1.0},{"d":"2000-10-16","v":0.3},{"d":"2000-10-22","v":0.9},{"d":"2000-10-27","v":0.1},{"d":"2000-10-31","v":0},
{"d":"2000-11-17","v":0},{"d":"2000-11-19","v":0.2},{"d":"2000-11-21","v":0},{"d":"2000-12-05","v":0},{"d":"2000-12-07","v":0.15},{"d":"2000-12-09","v":0},{"d":"2001-01-17","v":0},{"d":"2001-01-19","v":0.1},{"d":"2001-01-21","v":0},
{"d":"2001-07-06","v":0},{"d":"2001-07-13","v":0.05},{"d":"2001-07-17","v":1.4},{"d":"2001-07-21","v":2.0},{"d":"2001-07-28","v":2.08},{"d":"2001-08-03","v":1.9},{"d":"2001-08-09","v":1.6},{"d":"2001-08-16","v":1.2},{"d":"2001-08-23","v":0.9},{"d":"2001-08-27","v":0.3},{"d":"2001-08-31","v":0.05},{"d":"2001-09-07","v":0.3},{"d":"2001-09-11","v":1.0},{"d":"2001-09-16","v":2.4},{"d":"2001-09-20","v":1.5},{"d":"2001-09-27","v":2.6},{"d":"2001-10-03","v":3.12},{"d":"2001-10-07","v":1.8},{"d":"2001-10-14","v":2.0},{"d":"2001-10-20","v":1.3},{"d":"2001-10-27","v":1.9},{"d":"2001-10-31","v":1.0},{"d":"2001-11-07","v":0.5},{"d":"2001-11-13","v":0.2},{"d":"2001-11-18","v":0.4},{"d":"2001-11-22","v":0.05},{"d":"2001-12-01","v":0.2},{"d":"2001-12-10","v":0.05},{"d":"2001-12-23","v":0.1},{"d":"2001-12-31","v":0},
{"d":"2002-03-09","v":0},{"d":"2002-03-11","v":0.04},{"d":"2002-03-13","v":0},
{"d":"2002-06-19","v":0},{"d":"2002-06-23","v":0.05},{"d":"2002-06-28","v":2.55},{"d":"2002-07-04","v":2.3},{"d":"2002-07-11","v":2.6},{"d":"2002-07-17","v":2.68},{"d":"2002-07-24","v":2.2},{"d":"2002-07-30","v":2.0},{"d":"2002-08-05","v":2.3},{"d":"2002-08-12","v":2.5},{"d":"2002-08-18","v":1.9},{"d":"2002-08-25","v":2.2},{"d":"2002-08-31","v":2.45},{"d":"2002-09-07","v":1.7},{"d":"2002-09-14","v":1.95},{"d":"2002-09-20","v":1.0},{"d":"2002-09-27","v":1.8},{"d":"2002-10-04","v":0.6},{"d":"2002-10-08","v":0.05},{"d":"2002-10-12","v":0.8},{"d":"2002-10-17","v":0.1},{"d":"2002-10-21","v":0.9},{"d":"2002-10-25","v":0.05},{"d":"2002-10-30","v":0.7},{"d":"2002-11-03","v":0.05},{"d":"2002-11-07","v":1.0},{"d":"2002-11-12","v":0.2},{"d":"2002-11-18","v":0.5},{"d":"2002-11-23","v":0.05},{"d":"2002-11-29","v":0.3},{"d":"2002-12-06","v":0.5},{"d":"2002-12-12","v":1.95},{"d":"2002-12-19","v":1.5},{"d":"2002-12-25","v":1.3},{"d":"2002-12-31","v":1.4},{"d":"2003-01-07","v":0.6},{"d":"2003-01-13","v":0},
{"d":"2003-06-06","v":0},{"d":"2003-06-10","v":1.1},{"d":"2003-06-17","v":0.5},{"d":"2003-06-23","v":1.9},{"d":"2003-06-28","v":1.6},{"d":"2003-07-02","v":1.2},{"d":"2003-07-09","v":0.3},{"d":"2003-07-15","v":0.8},{"d":"2003-07-20","v":0.1},{"d":"2003-07-28","v":0.5},{"d":"2003-08-01","v":0},
{"d":"2003-08-12","v":0},{"d":"2003-08-16","v":1.0},{"d":"2003-08-23","v":2.24},{"d":"2003-08-29","v":1.5},{"d":"2003-09-05","v":1.8},{"d":"2003-09-09","v":1.3},{"d":"2003-09-14","v":2.88},{"d":"2003-09-18","v":1.4},{"d":"2003-09-25","v":1.7},{"d":"2003-10-01","v":1.1},{"d":"2003-10-08","v":1.5},{"d":"2003-10-14","v":0.9},{"d":"2003-10-18","v":0.2},{"d":"2003-10-23","v":0},
{"d":"2004-01-29","v":0},{"d":"2004-02-03","v":0.95},{"d":"2004-02-07","v":0},{"d":"2004-05-13","v":0},{"d":"2004-05-15","v":0.05},{"d":"2004-05-17","v":0},
{"d":"2004-07-23","v":0},{"d":"2004-08-01","v":0.3},{"d":"2004-08-09","v":1.9},{"d":"2004-08-16","v":2.1},{"d":"2004-08-22","v":1.7},{"d":"2004-08-29","v":2.1},{"d":"2004-09-05","v":2.4},{"d":"2004-09-11","v":2.95},{"d":"2004-09-18","v":2.5},{"d":"2004-09-24","v":1.9},{"d":"2004-10-01","v":1.6},{"d":"2004-10-07","v":1.2},{"d":"2004-10-14","v":0.3},{"d":"2004-10-18","v":0},
{"d":"2004-11-30","v":0},{"d":"2004-12-05","v":0.3},{"d":"2004-12-09","v":0},
{"d":"2005-03-02","v":0},{"d":"2005-03-06","v":0.5},{"d":"2005-03-11","v":2.3},{"d":"2005-03-17","v":2.2},{"d":"2005-03-22","v":3.3},{"d":"2005-03-28","v":2.8},{"d":"2005-04-04","v":2.0},{"d":"2005-04-10","v":1.2},{"d":"2005-04-17","v":0.5},{"d":"2005-04-23","v":0.1},{"d":"2005-04-28","v":0.3},{"d":"2005-05-04","v":1.0},{"d":"2005-05-11","v":1.35},{"d":"2005-05-17","v":0.6},{"d":"2005-05-24","v":0.1},{"d":"2005-05-28","v":0},{"d":"2005-06-01","v":0.8},{"d":"2005-06-08","v":3.2},{"d":"2005-06-14","v":3.25},{"d":"2005-06-23","v":3.3},{"d":"2005-07-02","v":3.38},{"d":"2005-07-11","v":3.35},{"d":"2005-07-19","v":3.3},{"d":"2005-07-28","v":3.1},{"d":"2005-08-03","v":2.6},{"d":"2005-08-10","v":2.1},{"d":"2005-08-18","v":1.95},{"d":"2005-08-27","v":1.7},{"d":"2005-09-03","v":1.85},{"d":"2005-09-09","v":1.5},{"d":"2005-09-16","v":1.1},{"d":"2005-09-22","v":0.6},{"d":"2005-09-29","v":0.2},{"d":"2005-10-03","v":0.15},{"d":"2005-10-10","v":0.6},{"d":"2005-10-16","v":1.03},{"d":"2005-10-23","v":0.5},{"d":"2005-10-29","v":1.92},{"d":"2005-11-03","v":1.2},{"d":"2005-11-09","v":0.3},{"d":"2005-11-16","v":0.05},{"d":"2005-11-22","v":0},{"d":"2005-11-27","v":0.2},{"d":"2005-12-01","v":0},
{"d":"2005-12-31","v":0},{"d":"2006-01-04","v":0.1},{"d":"2006-01-09","v":0},
{"d":"2006-07-11","v":0},{"d":"2006-07-15","v":0.25},{"d":"2006-07-19","v":0.1},{"d":"2006-07-24","v":0},{"d":"2006-09-07","v":0},{"d":"2006-09-09","v":3.18},{"d":"2006-09-11","v":0},{"d":"2006-10-14","v":0},{"d":"2006-10-16","v":2.12},{"d":"2006-10-18","v":0},{"d":"2006-12-19","v":0},{"d":"2006-12-21","v":0.06},{"d":"2006-12-23","v":0},
{"d":"2007-01-22","v":0},{"d":"2007-01-24","v":0.05},{"d":"2007-01-26","v":0},{"d":"2007-07-22","v":0},{"d":"2007-07-24","v":1.99},{"d":"2007-07-26","v":0},{"d":"2007-09-25","v":0},{"d":"2007-09-27","v":2.1},{"d":"2007-09-30","v":1.27},{"d":"2007-10-03","v":0},{"d":"2007-10-31","v":0},{"d":"2007-11-01","v":1.42},{"d":"2007-11-04","v":0},{"d":"2007-11-09","v":0}
]
},
"encoding": {
  "x": {"field": "d", "type": "temporal",
    "scale": {"type": "utc", "domain": [{"year": 1998, "month": 7, "date": 24, "utc": true}, {"year": 2009, "month": 7, "date": 6, "utc": true}], "nice": false},
    "axis": {"title": null, "grid": false, "format": "%m/%d/%y",
      "values": [{"year": 1998, "month": 7, "date": 24, "utc": true}, {"year": 1999, "month": 12, "date": 6, "utc": true}, {"year": 2001, "month": 4, "date": 19, "utc": true}, {"year": 2002, "month": 9, "date": 1, "utc": true}, {"year": 2004, "month": 1, "date": 14, "utc": true}, {"year": 2005, "month": 5, "date": 28, "utc": true}, {"year": 2006, "month": 10, "date": 10, "utc": true}, {"year": 2008, "month": 2, "date": 22, "utc": true}, {"year": 2009, "month": 7, "date": 6, "utc": true}],
      "domainColor": "black", "tickColor": "black", "tickSize": 5, "labelFont": "Liberation Sans", "labelFontSize": 14.5, "labelColor": "black", "labelPadding": 3, "labelFlush": false, "labelOverlap": false}},
  "y": {"field": "v", "type": "quantitative",
    "scale": {"domain": [0, 5], "nice": false, "zero": true},
    "axis": {"title": "Head Loss", "titleFont": "Liberation Sans", "titleFontSize": 13.5, "titleFontWeight": "bold", "titleColor": "black", "titlePadding": 12, "grid": false,
      "values": [0, 0.5, 1, 1.5, 2, 2.5, 3, 3.5, 4, 4.5, 5], "format": "~g",
      "domainColor": "black", "tickColor": "black", "tickSize": 5, "labelFont": "Liberation Sans", "labelFontSize": 14.5, "labelColor": "black", "labelPadding": 6}}
},
"layer": [
  {"data": {"name": "obs"},
   "mark": {"type": "point", "shape": "diamond", "filled": true, "size": 50, "opacity": 1, "strokeWidth": 0},
   "encoding": {"color": {"datum": "Observed", "type": "nominal",
      "scale": {"domain": ["Observed"], "range": ["#000080"]},
      "legend": {"title": null, "orient": "none", "legendX": 766, "legendY": 59, "fillColor": "white", "padding": 6, "labelFont": "Liberation Sans", "labelFontSize": 14.5, "labelColor": "black", "symbolType": "diamond", "symbolSize": 28, "symbolStrokeWidth": 0, "symbolOffset": 7.8, "labelOffset": 9.8}}}},
  {"data": {"name": "pred"},
   "mark": {"type": "line", "strokeWidth": 1.6},
   "encoding": {"stroke": {"datum": "Predicted", "type": "nominal",
      "scale": {"domain": ["Predicted"], "range": ["#FF00FF"]},
      "legend": {"title": null, "orient": "none", "legendX": 766, "legendY": 76, "fillColor": "white", "padding": 6, "labelFont": "Liberation Sans", "labelFontSize": 14.5, "labelColor": "black", "symbolType": "stroke", "symbolSize": 784, "symbolStrokeWidth": 1.6, "symbolOffset": 0, "labelOffset": 2.4}}}}
]
}
